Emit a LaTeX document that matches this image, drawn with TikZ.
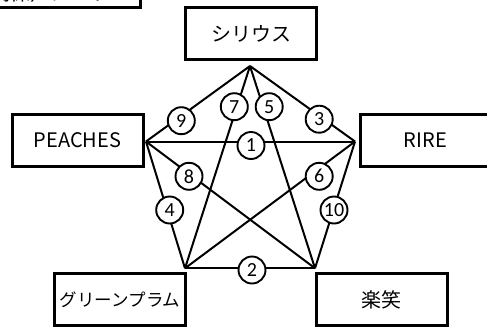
\documentclass[tikz,border=0pt]{standalone}
\usepackage{fontspec}
\setmainfont{Noto Sans CJK JP}
\newfontfamily\numfont{Carlito}

\begin{document}
\begin{tikzpicture}[x=1pt,y=-1pt]
\tikzset{member/.style={draw,line width=3pt,minimum width=131pt,minimum height=52.5pt,inner sep=0pt,font=\fontsize{20}{24}\selectfont},
  tie/.style={line width=2pt,line join=round},
  num/.style={circle,draw,fill=white,line width=1.9pt,minimum size=27pt,inner sep=0pt,font=\numfont\fontsize{20}{24}\selectfont}}
\useasboundingbox (0,0) rectangle (487,327);

% corners of the star
\coordinate (T) at (250,66);
\coordinate (L) at (146,141.5);
\coordinate (R) at (355,141.5);
\coordinate (BL) at (185,268.3);
\coordinate (BR) at (315,268.3);

\foreach \a/\b in {T/L,T/R,T/BL,T/BR,L/R,L/BL,L/BR,R/BL,R/BR,BL/BR}
  \draw[tie] (\a) -- (\b);

\foreach \n/\x/\y in {1/251/145.5,2/252/270,3/319.2/119.2,4/169.7/210,5/269.2/106.7,
  6/319.2/176.3,7/234.3/106.7,8/189/176.3,9/181.3/120.7,10/334/210}
  \node[num] (n\n) at (\x,\y) {\n};

\node[member] (siri) at (251.3,33.5) {シリウス};
\node[member] (peach) at (77.5,140.3) {PEACHES};
\node[member] (rire) at (425.5,140.3) {RIRE};
\node[member,font=\fontsize{17.5}{20}\selectfont] (green) at (120.2,299.7) {グリーンプラム};
\node[member] (raku) at (381.7,299.7) {楽笑};
\node[member,anchor=south east,minimum width=0pt,minimum height=0pt,inner ysep=5pt,inner xsep=30pt] (sheet) at (141.7,9) {（関係）シート};

\end{tikzpicture}
\end{document}
